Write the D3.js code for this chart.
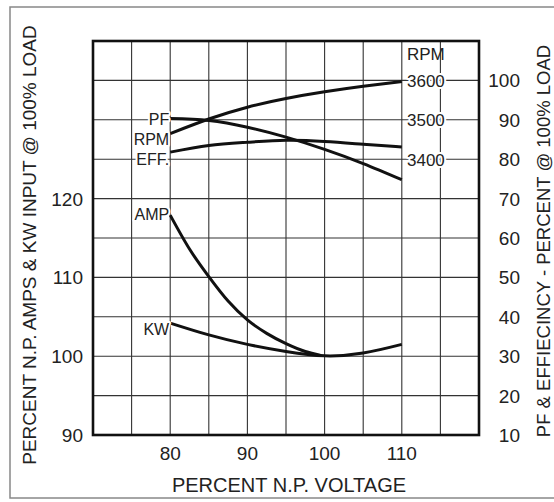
<!DOCTYPE html>
<html>
<head>
<meta charset="utf-8">
<script src="https://cdn.jsdelivr.net/npm/d3@7"></script>
<style>
  body { margin: 0; background: #fff; }
  text { font-family: "Liberation Sans", Arial, sans-serif; fill: #222; }
</style>
</head>
<body>
<div id="chart"></div>
<script>
// percent of nameplate voltage
const voltage = [80, 85, 90, 95, 100, 105, 110];
// right scale, percent
const pf = [90.3, 89.8, 88.1, 85.6, 82.5, 78.9, 74.8];
const eff = [81.8, 83.5, 84.3, 84.8, 84.5, 83.8, 83.1];
// rpm, read on the inner rpm scale
const rpm = [3465, 3502, 3532, 3554, 3571, 3585, 3597];
// left scale, percent
const kw = [104.2, 102.7, 101.5, 100.6, 100.05, 100.4, 101.5];
const ampVoltage = [80, 82.5, 85, 87.5, 90, 92.5, 95, 97.5, 99.5];
const amp = [117.9, 113.6, 110.1, 107.0, 104.6, 102.9, 101.6, 100.6, 100.1];

const xTicks = [80, 90, 100, 110];
const leftTicks = [90, 100, 110, 120];
const rightTicks = [10, 20, 30, 40, 50, 60, 70, 80, 90, 100];
const rpmTicks = [3400, 3500, 3600];

const width = 554, height = 502;
const plot = { left: 93, right: 479, top: 41, bottom: 435 };

const svg = d3.select('#chart')
  .append('svg')
  .attr('width', width)
  .attr('height', height);

const x = d3.scaleLinear().domain([70, 120]).range([plot.left, plot.right]);
const yL = d3.scaleLinear().domain([90, 140]).range([plot.bottom, plot.top]);
const yR = d3.scaleLinear().domain([10, 110]).range([plot.bottom, plot.top]);
const yRpm = d3.scaleLinear().domain([3400, 3600]).range([yR(80), yR(100)]);

// outer frame
svg.append('rect')
  .attr('x', 10).attr('y', 7)
  .attr('width', 560).attr('height', 491)
  .attr('fill', 'none')
  .attr('stroke', '#888')
  .attr('stroke-width', 1.5);

// grid, every 5 on x and every 5 on left scale
const grid = svg.append('g')
  .attr('stroke', '#333')
  .attr('stroke-width', 1.1);

grid.selectAll('.vgrid')
  .data(d3.range(75, 120, 5))
  .enter()
  .append('line')
  .attr('x1', d => x(d)).attr('x2', d => x(d))
  .attr('y1', plot.top).attr('y2', plot.bottom);

grid.selectAll('.hgrid')
  .data(d3.range(95, 140, 5))
  .enter()
  .append('line')
  .attr('y1', d => yL(d)).attr('y2', d => yL(d))
  .attr('x1', plot.left).attr('x2', plot.right);

// plot border
svg.append('rect')
  .attr('x', plot.left).attr('y', plot.top)
  .attr('width', plot.right - plot.left)
  .attr('height', plot.bottom - plot.top)
  .attr('fill', 'none')
  .attr('stroke', '#111')
  .attr('stroke-width', 2.6);

// curves
const smooth = d3.line().curve(d3.curveNatural);
const mono = d3.line().curve(d3.curveMonotoneX);

const curves = [
  { pts: voltage.map((v, i) => [x(v), yR(pf[i])]), gen: smooth },
  { pts: voltage.map((v, i) => [x(v), yR(eff[i])]), gen: smooth },
  { pts: voltage.map((v, i) => [x(v), yRpm(rpm[i])]), gen: smooth },
  { pts: voltage.map((v, i) => [x(v), yL(kw[i])]), gen: smooth },
  { pts: ampVoltage.map((v, i) => [x(v), yL(amp[i])]), gen: mono }
];

svg.selectAll('.curve')
  .data(curves)
  .enter()
  .append('path')
  .attr('class', 'curve')
  .attr('d', d => d.gen(d.pts))
  .attr('fill', 'none')
  .attr('stroke', '#111')
  .attr('stroke-width', 3)
  .attr('stroke-linecap', 'butt');

// white halo behind labels so grid lines stop at the text
function halo(sel) {
  sel.attr('stroke', '#fff')
    .attr('stroke-width', 4)
    .attr('paint-order', 'stroke')
    .attr('stroke-linejoin', 'round');
}

// curve labels
const curveLabels = [
  { t: 'PF', y: yR(pf[0]) + 6 },
  { t: 'RPM', y: yRpm(rpm[0]) + 11 },
  { t: 'EFF.', y: yR(80) + 6 },
  { t: 'AMP', y: yL(amp[0]) + 5 },
  { t: 'KW', y: yL(kw[0]) + 12 }
];
svg.selectAll('.clabel')
  .data(curveLabels)
  .enter()
  .append('text')
  .attr('x', x(80) - 1)
  .attr('y', d => d.y)
  .attr('text-anchor', 'end')
  .attr('font-size', '16px')
  .text(d => d.t)
  .call(halo);

// inner rpm scale
svg.selectAll('.rpm')
  .data(rpmTicks)
  .enter()
  .append('text')
  .attr('x', 407)
  .attr('y', d => yRpm(d) + 6.5)
  .attr('font-size', '17px')
  .text(d => d)
  .call(halo);

svg.append('text')
  .attr('x', 407)
  .attr('y', 60)
  .attr('font-size', '17px')
  .text('RPM');

// left axis labels
svg.selectAll('.ltick')
  .data(leftTicks)
  .enter()
  .append('text')
  .attr('x', 83)
  .attr('y', d => yL(d) + 7)
  .attr('text-anchor', 'end')
  .attr('font-size', '19px')
  .text(d => d);

// right axis labels
svg.selectAll('.rtick')
  .data(rightTicks)
  .enter()
  .append('text')
  .attr('x', 520)
  .attr('y', d => yR(d) + 7)
  .attr('text-anchor', 'end')
  .attr('font-size', '19px')
  .text(d => d);

// bottom axis labels
svg.selectAll('.xtick')
  .data(xTicks)
  .enter()
  .append('text')
  .attr('x', d => x(d))
  .attr('y', 460)
  .attr('text-anchor', 'middle')
  .attr('font-size', '19px')
  .text(d => d);

// axis titles
svg.append('text')
  .attr('x', 289)
  .attr('y', 492)
  .attr('text-anchor', 'middle')
  .attr('font-size', '20px')
  .text('PERCENT N.P. VOLTAGE');

svg.append('text')
  .attr('transform', 'translate(36,245) rotate(-90)')
  .attr('text-anchor', 'middle')
  .attr('font-size', '19px')
  .text('PERCENT N.P. AMPS & KW INPUT @ 100% LOAD');

svg.append('text')
  .attr('transform', 'translate(550,241) rotate(-90)')
  .attr('text-anchor', 'middle')
  .attr('font-size', '18.5px')
  .text('PF & EFFIECINCY - PERCENT @ 100% LOAD');
</script>
</body>
</html>
